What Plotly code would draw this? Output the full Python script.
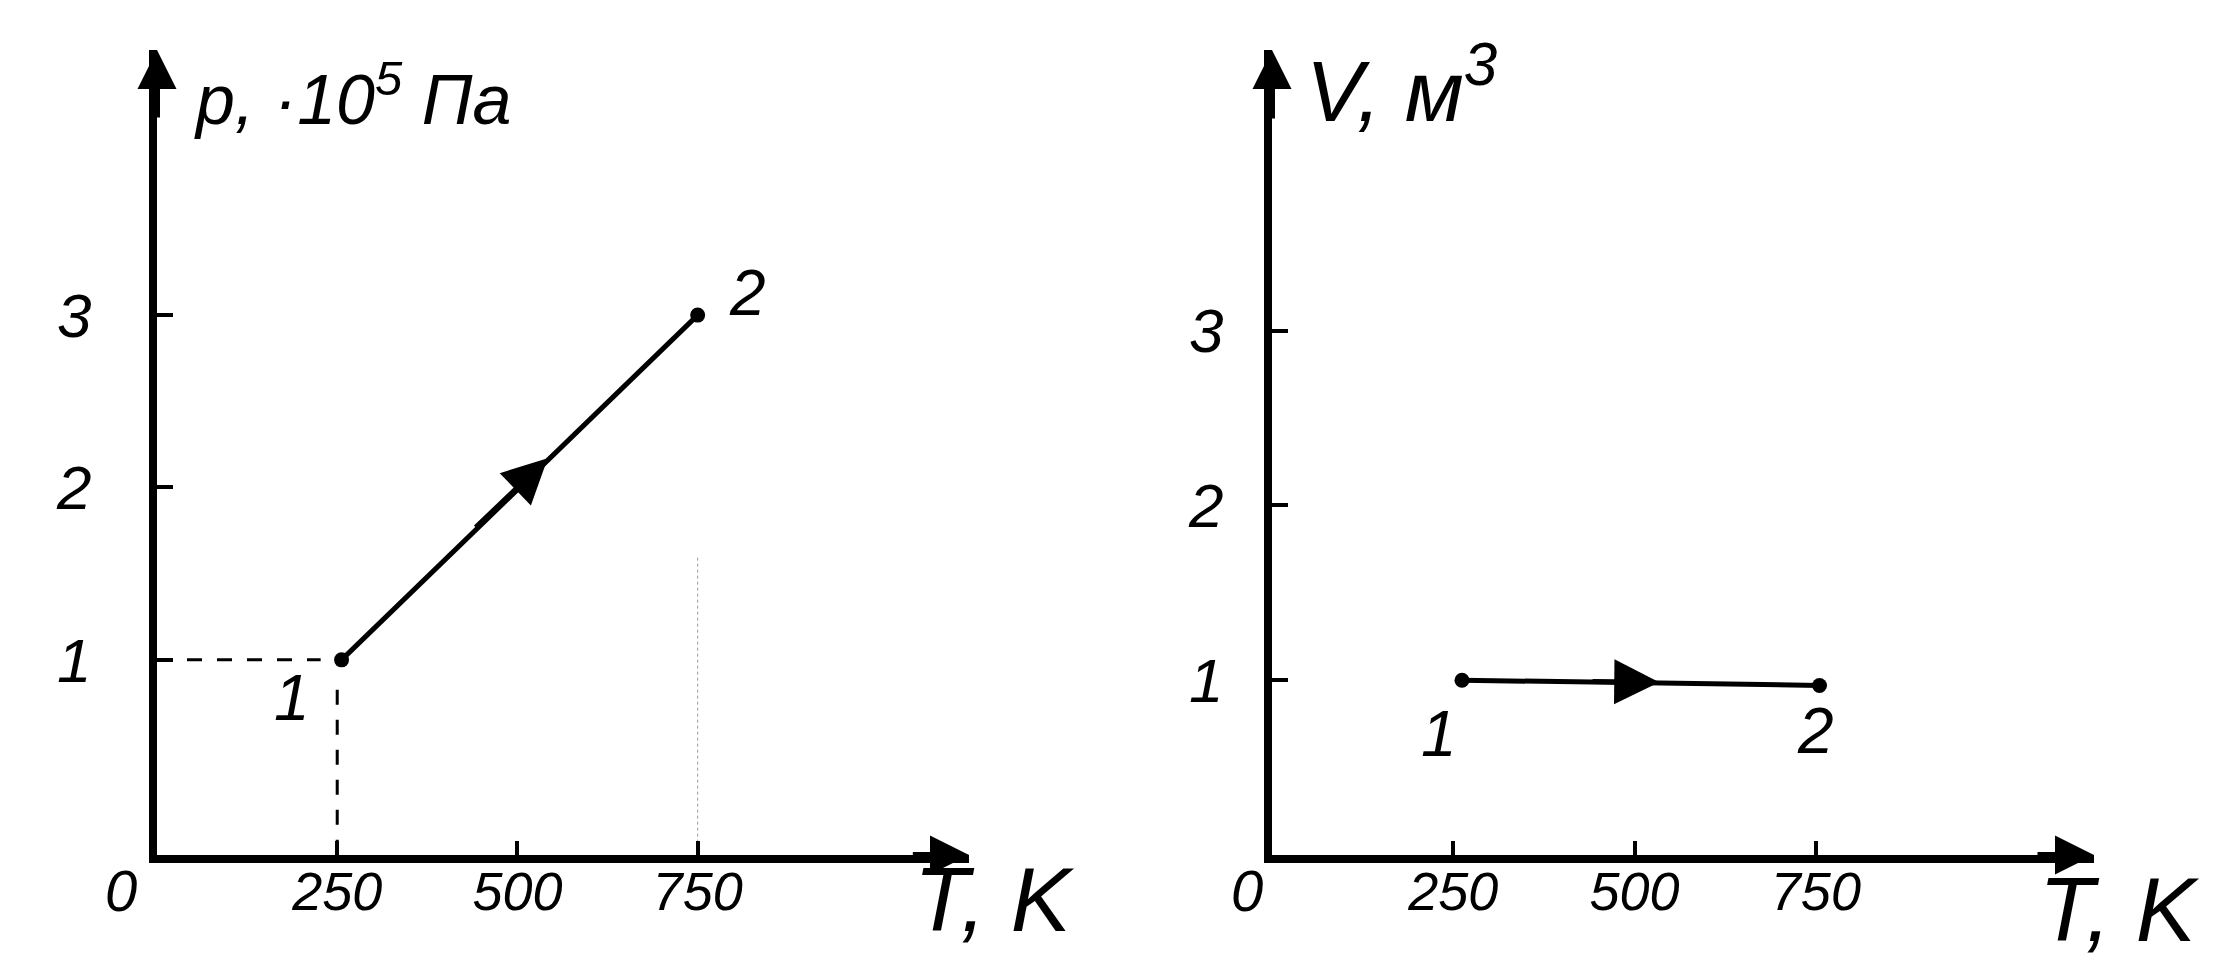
import plotly.graph_objects as go

W, H = 2234, 969
OFF = 8  # default page body margin shifts the figure by 8px

# ---- data ----
tick_T = [250, 500, 750]
tick_T_text = ["250", "500", "750"]
tick_val = [1, 2, 3]
tick_val_text = ["1", "2", "3"]

pT_T = [256, 750]        # p-T diagram, temperature (K)
pT_p = [1.0, 3.0]        # pressure (x10^5 Pa)
VT_T = [262, 755]        # V-T diagram, temperature (K)
VT_V = [1.0, 0.97]       # volume (m^3)
state_labels = ["1", "2"]

FONT = "Liberation Sans"
INK = "black"

def px_x(p):
    return (p - OFF) / W

def px_y(p):
    return 1 - (p - OFF) / H

fig = go.Figure()

# Left panel: p-T
fig.add_trace(go.Scatter(x=pT_T, y=pT_p, mode="lines+markers",
                         line=dict(color=INK, width=5),
                         marker=dict(color=INK, size=15),
                         xaxis="x", yaxis="y", showlegend=False, cliponaxis=False))
# dashed guides to point 1
fig.add_trace(go.Scatter(x=[0, 227], y=[1.0, 1.0], mode="lines",
                         line=dict(color=INK, width=3, dash="longdash"),
                         xaxis="x", yaxis="y", showlegend=False))
fig.add_trace(go.Scatter(x=[250, 250], y=[-0.13, 0.86], mode="lines",
                         line=dict(color=INK, width=3, dash="longdash"),
                         xaxis="x", yaxis="y", showlegend=False))
# faint dotted guide at 750
fig.add_trace(go.Scatter(x=[750, 750], y=[-0.13, 1.6], mode="lines",
                         line=dict(color="#999999", width=1, dash="dot"),
                         xaxis="x", yaxis="y", showlegend=False))

# Right panel: V-T
fig.add_trace(go.Scatter(x=VT_T, y=VT_V, mode="lines+markers",
                         line=dict(color=INK, width=5),
                         marker=dict(color=INK, size=15),
                         xaxis="x2", yaxis="y2", showlegend=False, cliponaxis=False))

# ---- axes geometry (pixel-based, full-size reference coords) ----
L_x0, L_x1 = 157, 969
R_x0, R_x1 = 1272, 2094
y_bot, y_top = 855, 50
L_kx = 0.506 * 1.4247       # px per K
R_kx = 0.509 * 1.4247
L_ky = 121 * 1.4247         # px per unit
R_ky = 122.7 * 1.4247
L_ymin = -0.132
L_xmax = (L_x1 - L_x0) / L_kx
R_xmax = (R_x1 - R_x0) / R_kx
L_ymax = (y_bot - y_top) / L_ky + L_ymin
R_ymax = (y_bot - y_top) / R_ky

tickfont_x = dict(family=FONT, size=54, color=INK, style="italic")
tickfont_y = dict(family=FONT, size=62, color=INK, style="italic")

def xax(domain, rng):
    return dict(domain=domain, range=[0, rng], showline=True, linewidth=8, linecolor=INK,
                showgrid=False, zeroline=False, ticks="inside", ticklen=14, tickwidth=4,
                tickcolor=INK, tickvals=tick_T, ticktext=tick_T_text, tickfont=tickfont_x,
                ticklabelstandoff=-18, fixedrange=True)

def yax(domain, rng, anchor, standoff):
    return dict(domain=domain, range=rng, showline=True, linewidth=8, linecolor=INK,
                showgrid=False, zeroline=False, ticks="inside", ticklen=16, tickwidth=4,
                tickcolor=INK, tickvals=tick_val, ticktext=tick_val_text, tickfont=tickfont_y,
                ticklabelstandoff=standoff, anchor=anchor, fixedrange=True)

ydom = [px_y(y_bot), px_y(y_top)]
fig.update_layout(
    width=W, height=H, margin=dict(l=0, r=0, t=0, b=0),
    paper_bgcolor="white", plot_bgcolor="white",
    xaxis=dict(**xax([px_x(L_x0), px_x(L_x1)], L_xmax), anchor="y"),
    yaxis=yax(ydom, [L_ymin, L_ymax], "x", 45),
    xaxis2=dict(**xax([px_x(R_x0), px_x(R_x1)], R_xmax), anchor="y2"),
    yaxis2=yax(ydom, [0, R_ymax], "x2", 28),
)

ann = []
def arrow(x, y, ax, ay, xr, yr, w=5, size=1.3):
    ann.append(dict(x=x, y=y, ax=ax, ay=ay, xref=xr, yref=yr, axref=xr, ayref=yr,
                    text="", showarrow=True, arrowhead=2, arrowsize=size,
                    arrowwidth=w, arrowcolor=INK))

# axis arrowheads
arrow(L_xmax, L_ymin, L_xmax - 80, L_ymin, "x", "y", w=6, size=1.3)
arrow(0, L_ymax, 0, L_ymax - 0.4, "x", "y", w=6, size=1.3)
arrow(R_xmax, 0, R_xmax - 80, 0, "x2", "y2", w=6, size=1.3)
arrow(0, R_ymax, 0, R_ymax - 0.4, "x2", "y2", w=6, size=1.3)
# process direction arrows
arrow(542, 2.17, 440, 1.76, "x", "y", w=5, size=1.8)
arrow(534, 0.988, 440, 0.992, "x2", "y2", w=5, size=1.8)

def style(size):
    return dict(family=FONT, size=size, color=INK, style="italic")

def dtxt(x, y, t, xr, yr, size):
    ann.append(dict(x=x, y=y, xref=xr, yref=yr, text=t, showarrow=False,
                    xanchor="center", yanchor="middle", font=style(size)))

def ptxt(x, y, t, size, xanchor="left"):
    ann.append(dict(x=px_x(x), y=px_y(y), xref="paper", yref="paper", text=t,
                    showarrow=False, xanchor=xanchor, yanchor="middle", font=style(size)))

# state labels
dtxt(187, 0.78, state_labels[0], "x", "y", 64)
dtxt(819, 3.13, state_labels[1], "x", "y", 64)
dtxt(230, 0.69, state_labels[0], "x2", "y2", 64)
dtxt(750, 0.71, state_labels[1], "x2", "y2", 64)

# origin labels
ptxt(121, 890, "0", 58, "center")
ptxt(1247, 890, "0", 58, "center")

# axis titles
ptxt(192, 95, "p, ·10<sup>5</sup> Па", 70)
ptxt(1304, 85, "V, м<sup>3</sup>", 86)
ptxt(912, 900, "T, K", 90)
ptxt(2037, 910, "T, K", 90)

fig.update_layout(annotations=ann)
fig.write_html("out.html")
